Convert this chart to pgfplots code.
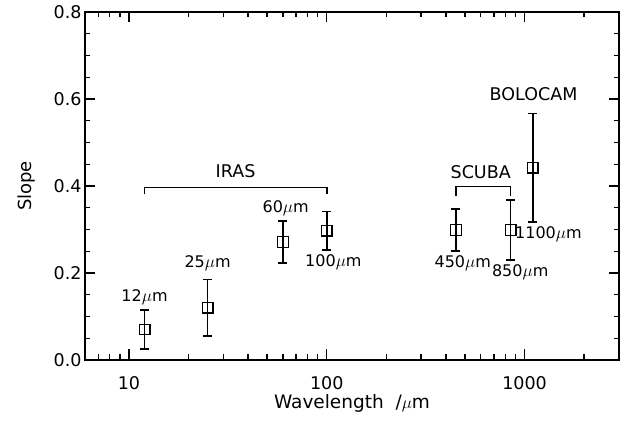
\documentclass[border=0pt]{standalone}
\usepackage{pgfplots}
\pgfplotsset{compat=1.18}
\usepackage{fontspec}
\setmainfont{DejaVu Sans}
\begin{document}
\begin{tikzpicture}
\begin{axis}[
  scale only axis, width=534pt, height=348pt,
  xmode=log, xmin=6, xmax=3000, ymin=0, ymax=0.8,
  xtick={10,100,1000}, xticklabels={10,100,1000},
  minor xtick={7,8,9,20,30,40,50,60,70,80,90,200,300,400,500,600,700,800,900,2000,3000},
  ytick={0,0.2,0.4,0.6,0.8},
  minor y tick num=3,
  yticklabel style={/pgf/number format/.cd, fixed, fixed zerofill, precision=1, assume math mode=true},
  tick align=inside, major tick length=10.5pt, minor tick length=5.5pt,
  axis line style={line width=1.5pt},
  every tick/.style={line width=1.4pt, black},
  font=\fontsize{17}{20}\selectfont,
  tick label style={font=\fontsize{17.5}{20}\selectfont},
  xticklabel shift=13pt,
  xlabel={Wavelength \ /$\mu$m}, ylabel={Slope},
  xlabel style={font=\fontsize{18.5}{20}\selectfont, yshift=2pt},
  ylabel style={font=\fontsize{18}{20}\selectfont, yshift=12pt},
  clip=false,
]
\addplot[black, only marks, mark=square, mark size=5.3pt, line width=1.3pt,
  error bars/.cd, y dir=both, y explicit,
  error bar style={line width=1.5pt},
  error mark options={rotate=90, mark size=4.5pt, line width=1.5pt}]
coordinates {
  (12,0.070) +- (0,0.045)
  (25,0.120) +- (0,0.065)
  (60,0.271) +- (0,0.048)
  (100,0.297) +- (0,0.044)
  (450,0.299) +- (0,0.048)
  (850,0.299) +- (0,0.069)
  (1100,0.442) +- (0,0.125)
};
% brackets
\draw[line width=1.5pt] (axis cs:12,0.381) -- (axis cs:12,0.397) -- (axis cs:100,0.397) -- (axis cs:100,0.381);
\draw[line width=1.5pt] (axis cs:450,0.378) -- (axis cs:450,0.399) -- (axis cs:850,0.399) -- (axis cs:850,0.378);
\node[font=\fontsize{17.5}{18}\selectfont] at (axis cs:34.6,0.434) {IRAS};
\node[font=\fontsize{17.5}{18}\selectfont] at (axis cs:600,0.433) {SCUBA};
\node[font=\fontsize{17.5}{18}\selectfont] at (axis cs:1110,0.612) {BOLOCAM};
% wavelength labels
\node[font=\fontsize{16}{18}\selectfont] at (axis cs:12,0.145) {12$\mu$m};
\node[font=\fontsize{16}{18}\selectfont] at (axis cs:25,0.223) {25$\mu$m};
\node[font=\fontsize{16}{18}\selectfont] at (axis cs:62,0.350) {60$\mu$m};
\node[font=\fontsize{16}{18}\selectfont] at (axis cs:108,0.225) {100$\mu$m};
\node[font=\fontsize{16}{18}\selectfont] at (axis cs:487,0.223) {450$\mu$m};
\node[font=\fontsize{16}{18}\selectfont] at (axis cs:950,0.202) {850$\mu$m};
\node[font=\fontsize{16}{18}\selectfont] at (axis cs:1320,0.289) {1100$\mu$m};
\path (rel axis cs:0,0) ++(-85pt,-63pt) coordinate (bl);
\path (rel axis cs:1,1) ++(21pt,12pt) coordinate (tr);
\useasboundingbox (bl) rectangle (tr);
\end{axis}
\end{tikzpicture}
\end{document}
